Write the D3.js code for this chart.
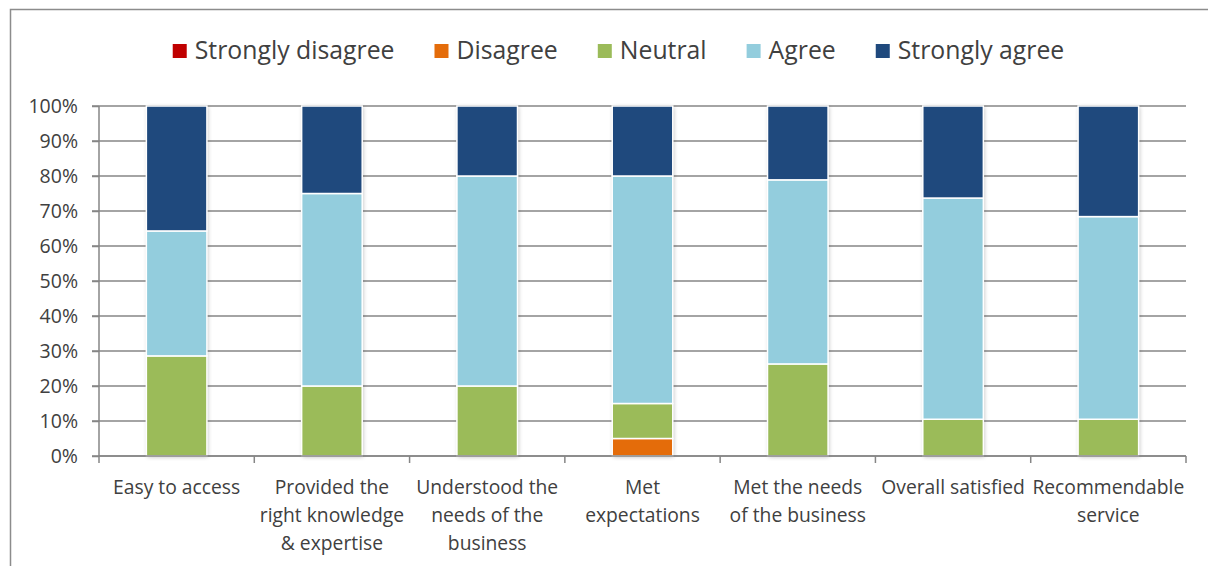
<!DOCTYPE html>
<html><head><meta charset="utf-8">
<script src="https://cdn.jsdelivr.net/npm/d3@7"></script>
<style>
body{margin:0;background:#fff;}
text{font-family:"Open Sans","Noto Sans",sans-serif;fill:#404040;}
</style></head>
<body><svg id="c" width="1208" height="566"></svg>
<script>
const categories = [["Easy to access"],["Provided the","right knowledge","& expertise"],["Understood the","needs of the","business"],["Met","expectations"],["Met the needs","of the business"],["Overall satisfied"],["Recommendable","service"]];
const seriesNames = ["Strongly disagree","Disagree","Neutral","Agree","Strongly agree"];
const stronglyDisagree = [0,0,0,0,0,0,0];
const disagree = [0,0,0,5,0,0,0];
const neutral = [28.6,20,20,10,26.3,10.5,10.5];
const agree = [35.7,55,60,65,52.6,63.2,57.9];
const stronglyAgree = [35.7,25,20,20,21.1,26.3,31.6];
const yTicks = [0,10,20,30,40,50,60,70,80,90,100];
const colors = ["#C00000","#E46C0A","#9BBB59","#93CDDD","#1F497D"];

const svg = d3.select("#c");
svg.append("path").attr("d","M10.5,566 V9.5 H1208").attr("fill","none").attr("stroke","#8c8c8c").attr("stroke-width",1.5);

const defs = svg.append("defs");
const f = defs.append("filter").attr("id","sh").attr("x","-20%").attr("y","-5%").attr("width","140%").attr("height","110%");
f.append("feGaussianBlur").attr("in","SourceAlpha").attr("stdDeviation",2).attr("result","b");
f.append("feOffset").attr("in","b").attr("dx",1).attr("dy",1).attr("result","o");
f.append("feComponentTransfer").attr("in","o").attr("result","o2").append("feFuncA").attr("type","linear").attr("slope",0.25);
const fm = f.append("feMerge"); fm.append("feMergeNode").attr("in","o2"); fm.append("feMergeNode").attr("in","SourceGraphic");

const x = d3.scaleBand().domain(d3.range(categories.length)).range([99,1186]).paddingInner(0.61).paddingOuter(0.305);
const xb = d3.scaleBand().domain(d3.range(categories.length)).range([99,1186]);
const y = d3.scaleLinear().domain([0,100]).range([456,106]);

svg.append("g").selectAll("line").data(yTicks).join("line")
  .attr("x1",92).attr("x2",1186).attr("y1",d=>y(d)).attr("y2",d=>y(d))
  .attr("stroke","#868686").attr("stroke-width",1.5);

const ya = svg.append("g").attr("transform","translate(99,0)")
  .call(d3.axisLeft(y).tickValues(yTicks).tickSize(7).tickFormat(d=>d+"%"));
ya.select(".domain").attr("stroke","#868686").attr("stroke-width",1.5).attr("d","M0,106V456");
ya.selectAll(".tick line").attr("stroke","#868686").attr("stroke-width",1.5);
ya.selectAll(".tick text").attr("x",-21).attr("dy","0.35em").style("font-size","19.5px").style("font-family",'"Open Sans",sans-serif').attr("fill","#404040");

const table = categories.map((c,i)=>({i, v:[stronglyDisagree[i],disagree[i],neutral[i],agree[i],stronglyAgree[i]]}));
const keys = d3.range(seriesNames.length);
const stack = d3.stack().keys(keys).value((d,k)=>d.v[k]);
const stacked = stack(table);

const barsG = svg.append("g");
barsG.selectAll("rect.bg").data(table).join("rect").attr("class","bg")
  .attr("x",d=>x(d.i)).attr("width",x.bandwidth())
  .attr("y",y(100)).attr("height",y(0)-y(100)).attr("fill","#fff").attr("filter","url(#sh)");
stacked.forEach((s,k)=>{
  barsG.append("g").selectAll("rect").data(s.filter(d=>d[1]-d[0]>0)).join("rect")
    .attr("x",d=>x(d.data.i)).attr("width",x.bandwidth())
    .attr("y",d=>y(d[1])).attr("height",d=>y(d[0])-y(d[1]))
    .attr("fill",colors[k]).attr("stroke","#fff").attr("stroke-width",1.5);
});

const xa = svg.append("g").attr("transform","translate(0,456)");
xa.append("line").attr("x1",99).attr("x2",1186).attr("stroke","#868686").attr("stroke-width",1.5);
xa.selectAll("line.t").data(d3.range(categories.length+1)).join("line").attr("class","t")
  .attr("x1",d=>99+d*xb.step()).attr("x2",d=>99+d*xb.step()).attr("y1",0).attr("y2",7)
  .attr("stroke","#868686").attr("stroke-width",1.5);
const lbl = svg.append("g").selectAll("text").data(categories).join("text")
  .attr("x",(d,i)=>xb(i)+xb.bandwidth()/2).attr("y",494)
  .attr("text-anchor","middle").style("font-size","19.3px");
lbl.each(function(lines){
  const t=d3.select(this);
  lines.forEach((l,j)=>t.append("tspan").attr("x",t.attr("x")).attr("dy",j===0?0:28).text(l));
});

const lg = svg.append("g");
let cx = 0;
seriesNames.forEach((n,k)=>{
  const g = lg.append("g");
  g.append("rect").attr("x",0).attr("y",-15).attr("width",14).attr("height",14).attr("fill",colors[k]);
  const t = g.append("text").attr("x",22).attr("y",0).style("font-size","24.8px").text(n);
  const w = 22 + t.node().getComputedTextLength();
  g.attr("transform",`translate(${cx},0)`);
  cx += w + 40;
});
const total = cx - 40;
lg.attr("transform",`translate(${618.5-total/2},59)`);
</script></body></html>
